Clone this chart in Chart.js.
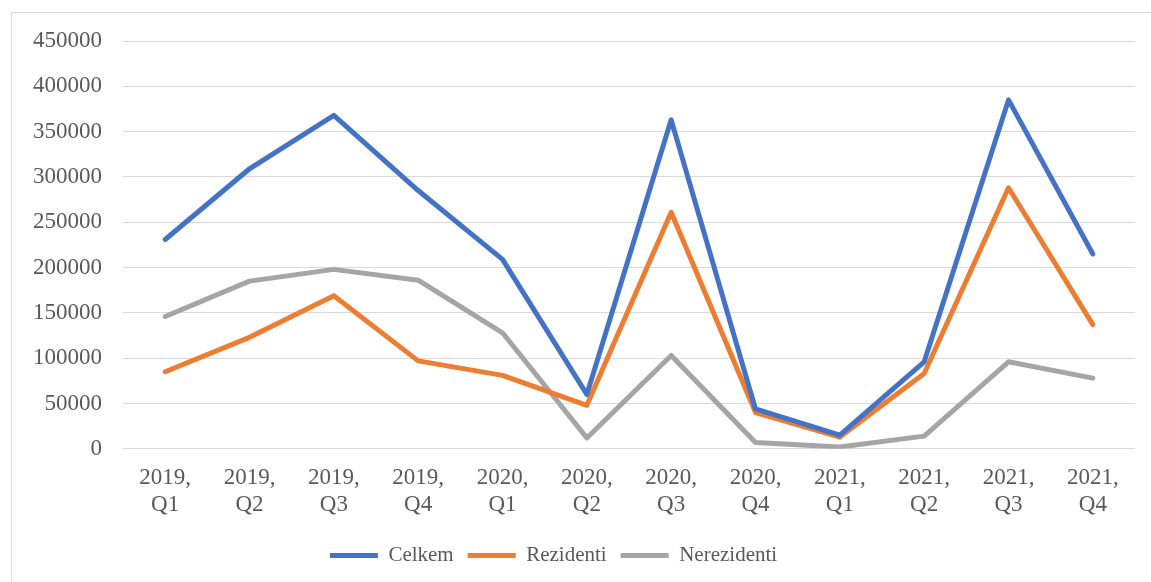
<!DOCTYPE html>
<html>
<head>
<meta charset="utf-8">
<script src="https://cdn.jsdelivr.net/npm/chart.js@4/dist/chart.umd.min.js"></script>
<style>
  html, body { margin: 0; padding: 0; background: #fff; overflow: hidden; }
  #frame { position: absolute; left: 11px; top: 12px; width: 1160px; height: 600px; border: 1px solid #d9d9d9; }
  #wrap { position: absolute; left: 0; top: 0; width: 1151px; height: 582px; }
</style>
</head>
<body>
<div id="frame"></div>
<div id="wrap"><canvas id="grafik"></canvas></div>
<script>
// kvartaly
var kvartaly = [
    ['2019,', 'Q1'], ['2019,', 'Q2'], ['2019,', 'Q3'], ['2019,', 'Q4'],
    ['2020,', 'Q1'], ['2020,', 'Q2'], ['2020,', 'Q3'], ['2020,', 'Q4'],
    ['2021,', 'Q1'], ['2021,', 'Q2'], ['2021,', 'Q3'], ['2021,', 'Q4']
];

// hodnoty odhadnute z grafu
var celkem      = [231000, 309000, 368000, 285000, 209000, 60000, 363000, 44000, 15000, 96000, 385000, 215000];
var rezidenti   = [85000, 123000, 169000, 97000, 81000, 48000, 261000, 40000, 13000, 83000, 288000, 137000];
var nerezidenti = [146000, 185000, 198000, 186000, 128000, 12000, 103000, 7000, 2000, 14000, 96000, 78000];

var yMax = 450000;
var yKrok = 50000;

var rodina = '"Liberation Serif", "Times New Roman", serif';
var font = { family: rodina, size: 23 };
var fontLegenda = { family: rodina, size: 21 };

function serie(nazev, data, barva) {
    return {
        label: nazev,
        data: data,
        borderColor: barva,
        backgroundColor: barva,
        borderWidth: 5,
        pointRadius: 0,
        pointHoverRadius: 0,
        borderCapStyle: 'round',
        borderJoinStyle: 'round',
        tension: 0,
        fill: false
    };
}

// posun legendy (Excel ji ma trochu vlevo a niz)
var posunLegendy = {
    id: 'posunLegendy',
    afterLayout: function(chart) {
        var lg = chart.legend;
        lg.left -= 20;
        lg.right -= 20;
        lg.top += 5;
        lg.bottom += 5;
    }
};

var ctx = document.getElementById('grafik').getContext('2d');
var myChart = new Chart(ctx, {
    type: 'line',
    data: {
        labels: kvartaly,
        datasets: [
            serie('Celkem', celkem, '#4472c4'),
            serie('Rezidenti', rezidenti, '#ed7d31'),
            serie('Nerezidenti', nerezidenti, '#a5a5a5')
        ]
    },
    options: {
        responsive: true,
        maintainAspectRatio: false,
        animation: false,
        layout: {
            padding: { left: 12, right: 16, top: 41, bottom: 11 }
        },
        plugins: {
            legend: {
                position: 'bottom',
                labels: {
                    color: '#595959',
                    font: fontLegenda,
                    usePointStyle: true,
                    pointStyle: 'line',
                    pointStyleWidth: 48,
                    boxHeight: 21,
                    padding: 14
                }
            },
            tooltip: { enabled: false }
        },
        scales: {
            x: {
                offset: true,
                grid: { display: false },
                border: { display: false },
                ticks: {
                    color: '#595959',
                    font: font,
                    padding: 7,
                    maxRotation: 0,
                    autoSkip: false
                }
            },
            y: {
                min: 0,
                max: yMax,
                grid: { color: '#d9d9d9', lineWidth: 1, drawTicks: false },
                border: { display: false },
                ticks: {
                    stepSize: yKrok,
                    color: '#595959',
                    font: font,
                    padding: 21,
                    callback: function(v) { return String(v); }
                }
            }
        }
    },
    plugins: [posunLegendy]
});
</script>
</body>
</html>
